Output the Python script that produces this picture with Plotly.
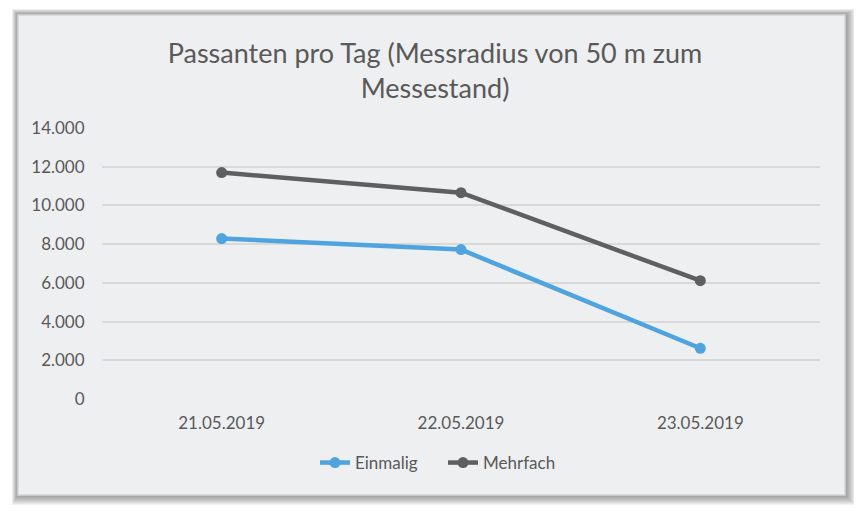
import plotly.graph_objects as go

dates = ["21.05.2019", "22.05.2019", "23.05.2019"]
einmalig = [8290, 7720, 2620]
mehrfach = [11700, 10660, 6110]
y_ticks = [0, 2000, 4000, 6000, 8000, 10000, 12000, 14000]
y_tick_labels = ["0", "2.000", "4.000", "6.000", "8.000", "10.000", "12.000", "14.000"]

OFF = 8  # default page body margin
PAGE_W, PAGE_H = 862, 511
W, H = PAGE_W - OFF, PAGE_H - OFF
PL, PR, PT, PB = 102, 820, 128, 399  # plot area in page pixels
ML, MR, MT, MB = PL - OFF, PAGE_W - PR, PT - OFF, PAGE_H - PB
PW, PH = PR - PL, PB - PT


def px(x):
    return (x - PL) / PW


def py(y):
    return (PB - y) / PH


FONT = "Lato"
TXT = "#595959"

fig = go.Figure()
fig.add_trace(go.Scatter(x=dates, y=einmalig, name="Einmalig", mode="lines+markers",
                         line=dict(color="#4fa4df", width=4.5),
                         marker=dict(color="#4fa4df", size=11)))
fig.add_trace(go.Scatter(x=dates, y=mehrfach, name="Mehrfach", mode="lines+markers",
                         line=dict(color="#5f5f5f", width=4.5),
                         marker=dict(color="#5f5f5f", size=11)))

shapes = []
# soft shadow
bx0, by0, bx1, by1 = 18, 15, 845, 495
for k in range(10, 0, -1):
    shapes.append(dict(type="rect", xref="paper", yref="paper", layer="below",
                       x0=px(bx0 - 0.6 * k), x1=px(bx1 + k),
                       y0=py(by1 + k), y1=py(by0 - 0.6 * k),
                       fillcolor="rgba(90,90,90,0.08)", line=dict(width=0)))
shapes.append(dict(type="rect", xref="paper", yref="paper", layer="below",
                   x0=px(bx0), x1=px(bx1), y0=py(by1), y1=py(by0),
                   fillcolor="#eeeff1", line=dict(color="#d6d6d6", width=1.5)))

fig.update_layout(
    width=W, height=H,
    margin=dict(l=ML, r=MR, t=MT, b=MB, pad=0),
    paper_bgcolor="white",
    plot_bgcolor="rgba(0,0,0,0)",
    shapes=shapes,
    font=dict(family=FONT, color=TXT),
    title=dict(text="Passanten pro Tag (Messradius von 50 m zum<br>Messestand)",
               x=0.5, xanchor="center", xref="container",
               y=1 - 55 / H, yanchor="top", yref="container",
               font=dict(family=FONT, size=27, color=TXT)),
    xaxis=dict(type="category", range=[-0.5, 2.5], showgrid=False, zeroline=False,
               showline=False, ticks="outside", ticklen=9, tickcolor="rgba(0,0,0,0)",
               tickfont=dict(family=FONT, size=17, color=TXT), fixedrange=True),
    yaxis=dict(range=[0, 14000], tickvals=y_ticks, ticktext=y_tick_labels,
               showgrid=True, gridcolor="#d9d9d9", gridwidth=1.5, zeroline=False,
               showline=False, ticks="outside", ticklen=13, tickcolor="rgba(0,0,0,0)",
               tickfont=dict(family=FONT, size=17, color=TXT), fixedrange=True),
    legend=dict(orientation="h", x=px(315), xanchor="left", y=py(463), yanchor="middle",
                font=dict(family=FONT, size=17, color=TXT), bgcolor="rgba(0,0,0,0)",
                itemwidth=30, tracegroupgap=0, entrywidth=83, entrywidthmode="pixels"),
    showlegend=True,
)

fig.write_html("out.html")
